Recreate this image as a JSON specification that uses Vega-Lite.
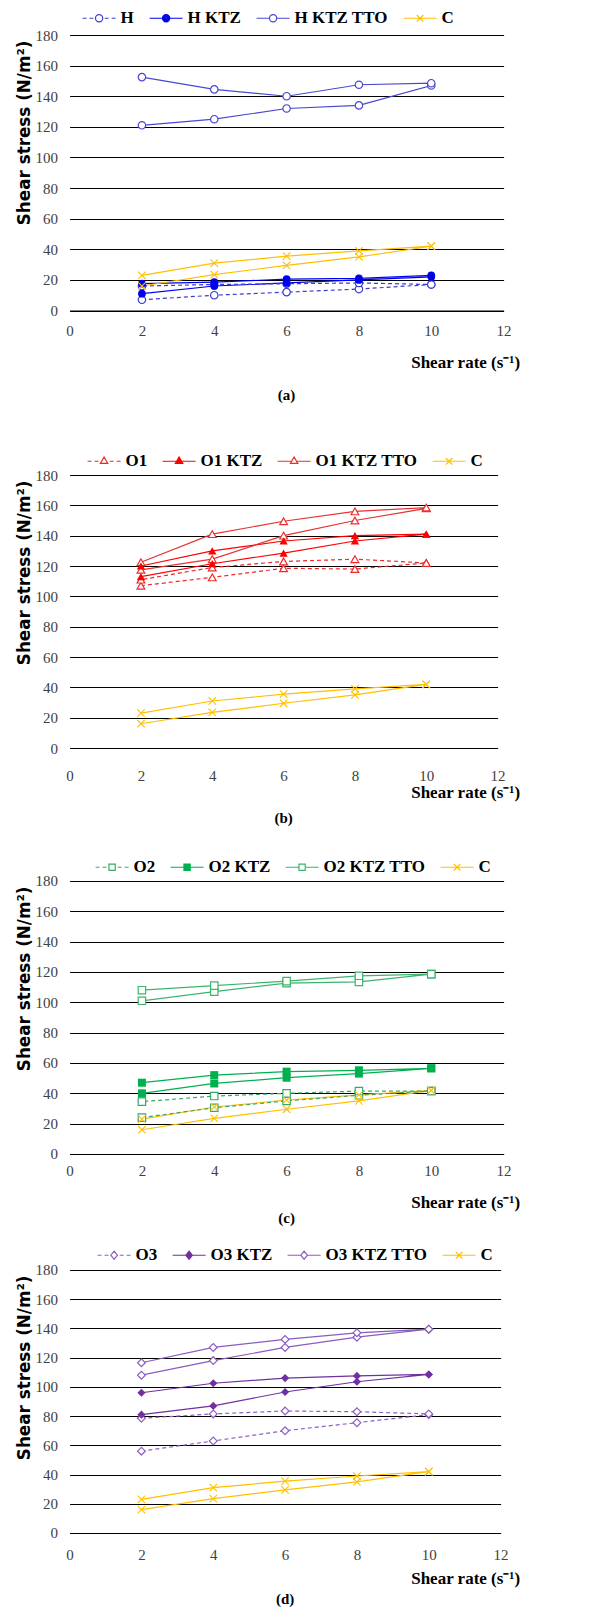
{
  "$schema": "https://vega.github.io/schema/vega-lite/v6.json",
  "background": "white",
  "padding": {"left": 16.6, "top": 0, "right": 0, "bottom": 0},
  "spacing": 0,
  "bounds": "flush",
  "resolve": {"scale": {"color": "independent", "shape": "independent"}, "legend": {"color": "independent", "shape": "independent"}},
  "datasets": {
    "a": [
      {"s": "H", "x": 2, "y": 7, "o": 1}, {"s": "H", "x": 4, "y": 10, "o": 2}, {"s": "H", "x": 6, "y": 12, "o": 3}, {"s": "H", "x": 8, "y": 14, "o": 4}, {"s": "H", "x": 10, "y": 17, "o": 5},
      {"s": "H", "x": 10, "y": 17, "o": 6}, {"s": "H", "x": 8, "y": 18, "o": 7}, {"s": "H", "x": 6, "y": 17.5, "o": 8}, {"s": "H", "x": 4, "y": 17, "o": 9}, {"s": "H", "x": 2, "y": 16, "o": 10},
      {"s": "H KTZ", "x": 2, "y": 11, "o": 1}, {"s": "H KTZ", "x": 4, "y": 16, "o": 2}, {"s": "H KTZ", "x": 6, "y": 18, "o": 3}, {"s": "H KTZ", "x": 8, "y": 20, "o": 4}, {"s": "H KTZ", "x": 10, "y": 22, "o": 5},
      {"s": "H KTZ", "x": 10, "y": 23, "o": 6}, {"s": "H KTZ", "x": 8, "y": 21, "o": 7}, {"s": "H KTZ", "x": 6, "y": 20.5, "o": 8}, {"s": "H KTZ", "x": 4, "y": 18.5, "o": 9}, {"s": "H KTZ", "x": 2, "y": 17.5, "o": 10},
      {"s": "H KTZ TTO", "x": 2, "y": 121, "o": 1}, {"s": "H KTZ TTO", "x": 4, "y": 125, "o": 2}, {"s": "H KTZ TTO", "x": 6, "y": 132, "o": 3}, {"s": "H KTZ TTO", "x": 8, "y": 134, "o": 4}, {"s": "H KTZ TTO", "x": 10, "y": 147, "o": 5},
      {"s": "H KTZ TTO", "x": 10, "y": 148.5, "o": 6}, {"s": "H KTZ TTO", "x": 8, "y": 147.5, "o": 7}, {"s": "H KTZ TTO", "x": 6, "y": 140, "o": 8}, {"s": "H KTZ TTO", "x": 4, "y": 144.5, "o": 9}, {"s": "H KTZ TTO", "x": 2, "y": 152.5, "o": 10},
      {"s": "C", "x": 2, "y": 16, "o": 1}, {"s": "C", "x": 4, "y": 23.5, "o": 2}, {"s": "C", "x": 6, "y": 29.5, "o": 3}, {"s": "C", "x": 8, "y": 35, "o": 4}, {"s": "C", "x": 10, "y": 42, "o": 5},
      {"s": "C", "x": 10, "y": 42, "o": 6}, {"s": "C", "x": 8, "y": 39, "o": 7}, {"s": "C", "x": 6, "y": 35.5, "o": 8}, {"s": "C", "x": 4, "y": 31, "o": 9}, {"s": "C", "x": 2, "y": 23, "o": 10}
    ],
    "b": [
      {"s": "O1", "x": 2, "y": 107, "o": 1}, {"s": "O1", "x": 4, "y": 112.5, "o": 2}, {"s": "O1", "x": 6, "y": 118.5, "o": 3}, {"s": "O1", "x": 8, "y": 118, "o": 4}, {"s": "O1", "x": 10, "y": 122, "o": 5},
      {"s": "O1", "x": 10, "y": 122, "o": 6}, {"s": "O1", "x": 8, "y": 124.5, "o": 7}, {"s": "O1", "x": 6, "y": 123, "o": 8}, {"s": "O1", "x": 4, "y": 119, "o": 9}, {"s": "O1", "x": 2, "y": 111, "o": 10},
      {"s": "O1 KTZ", "x": 2, "y": 113, "o": 1}, {"s": "O1 KTZ", "x": 4, "y": 121.5, "o": 2}, {"s": "O1 KTZ", "x": 6, "y": 128.5, "o": 3}, {"s": "O1 KTZ", "x": 8, "y": 136.5, "o": 4}, {"s": "O1 KTZ", "x": 10, "y": 141, "o": 5},
      {"s": "O1 KTZ", "x": 10, "y": 141, "o": 6}, {"s": "O1 KTZ", "x": 8, "y": 140, "o": 7}, {"s": "O1 KTZ", "x": 6, "y": 136.5, "o": 8}, {"s": "O1 KTZ", "x": 4, "y": 130, "o": 9}, {"s": "O1 KTZ", "x": 2, "y": 120, "o": 10},
      {"s": "O1 KTZ TTO", "x": 2, "y": 117.5, "o": 1}, {"s": "O1 KTZ TTO", "x": 4, "y": 124.5, "o": 2}, {"s": "O1 KTZ TTO", "x": 6, "y": 140, "o": 3}, {"s": "O1 KTZ TTO", "x": 8, "y": 150, "o": 4}, {"s": "O1 KTZ TTO", "x": 10, "y": 158, "o": 5},
      {"s": "O1 KTZ TTO", "x": 10, "y": 158.5, "o": 6}, {"s": "O1 KTZ TTO", "x": 8, "y": 156, "o": 7}, {"s": "O1 KTZ TTO", "x": 6, "y": 149.5, "o": 8}, {"s": "O1 KTZ TTO", "x": 4, "y": 141, "o": 9}, {"s": "O1 KTZ TTO", "x": 2, "y": 122.5, "o": 10},
      {"s": "C", "x": 2, "y": 16, "o": 1}, {"s": "C", "x": 4, "y": 23.5, "o": 2}, {"s": "C", "x": 6, "y": 29.5, "o": 3}, {"s": "C", "x": 8, "y": 35, "o": 4}, {"s": "C", "x": 10, "y": 42, "o": 5},
      {"s": "C", "x": 10, "y": 42, "o": 6}, {"s": "C", "x": 8, "y": 39, "o": 7}, {"s": "C", "x": 6, "y": 35.5, "o": 8}, {"s": "C", "x": 4, "y": 31, "o": 9}, {"s": "C", "x": 2, "y": 23, "o": 10}
    ],
    "c": [
      {"s": "O2", "x": 2, "y": 24, "o": 1}, {"s": "O2", "x": 4, "y": 30.5, "o": 2}, {"s": "O2", "x": 6, "y": 35, "o": 3}, {"s": "O2", "x": 8, "y": 38.7, "o": 4}, {"s": "O2", "x": 10, "y": 41.5, "o": 5},
      {"s": "O2", "x": 10, "y": 41.5, "o": 6}, {"s": "O2", "x": 8, "y": 41.5, "o": 7}, {"s": "O2", "x": 6, "y": 40, "o": 8}, {"s": "O2", "x": 4, "y": 38.2, "o": 9}, {"s": "O2", "x": 2, "y": 34.5, "o": 10},
      {"s": "O2 KTZ", "x": 2, "y": 40, "o": 1}, {"s": "O2 KTZ", "x": 4, "y": 46.5, "o": 2}, {"s": "O2 KTZ", "x": 6, "y": 50.3, "o": 3}, {"s": "O2 KTZ", "x": 8, "y": 53, "o": 4}, {"s": "O2 KTZ", "x": 10, "y": 56.5, "o": 5},
      {"s": "O2 KTZ", "x": 10, "y": 56.5, "o": 6}, {"s": "O2 KTZ", "x": 8, "y": 55.2, "o": 7}, {"s": "O2 KTZ", "x": 6, "y": 54.3, "o": 8}, {"s": "O2 KTZ", "x": 4, "y": 52, "o": 9}, {"s": "O2 KTZ", "x": 2, "y": 47, "o": 10},
      {"s": "O2 KTZ TTO", "x": 2, "y": 101, "o": 1}, {"s": "O2 KTZ TTO", "x": 4, "y": 107, "o": 2}, {"s": "O2 KTZ TTO", "x": 6, "y": 112.7, "o": 3}, {"s": "O2 KTZ TTO", "x": 8, "y": 113.5, "o": 4}, {"s": "O2 KTZ TTO", "x": 10, "y": 118.6, "o": 5},
      {"s": "O2 KTZ TTO", "x": 10, "y": 118.6, "o": 6}, {"s": "O2 KTZ TTO", "x": 8, "y": 117.5, "o": 7}, {"s": "O2 KTZ TTO", "x": 6, "y": 114, "o": 8}, {"s": "O2 KTZ TTO", "x": 4, "y": 111, "o": 9}, {"s": "O2 KTZ TTO", "x": 2, "y": 108, "o": 10},
      {"s": "C", "x": 2, "y": 16, "o": 1}, {"s": "C", "x": 4, "y": 23.5, "o": 2}, {"s": "C", "x": 6, "y": 29.5, "o": 3}, {"s": "C", "x": 8, "y": 35, "o": 4}, {"s": "C", "x": 10, "y": 42, "o": 5},
      {"s": "C", "x": 10, "y": 42, "o": 6}, {"s": "C", "x": 8, "y": 39, "o": 7}, {"s": "C", "x": 6, "y": 35.5, "o": 8}, {"s": "C", "x": 4, "y": 31, "o": 9}, {"s": "C", "x": 2, "y": 23, "o": 10}
    ],
    "d": [
      {"s": "O3", "x": 2, "y": 56, "o": 1}, {"s": "O3", "x": 4, "y": 63, "o": 2}, {"s": "O3", "x": 6, "y": 70, "o": 3}, {"s": "O3", "x": 8, "y": 75.5, "o": 4}, {"s": "O3", "x": 10, "y": 81, "o": 5},
      {"s": "O3", "x": 10, "y": 81.5, "o": 6}, {"s": "O3", "x": 8, "y": 83, "o": 7}, {"s": "O3", "x": 6, "y": 83.5, "o": 8}, {"s": "O3", "x": 4, "y": 81.5, "o": 9}, {"s": "O3", "x": 2, "y": 78.5, "o": 10},
      {"s": "O3 KTZ", "x": 2, "y": 81, "o": 1}, {"s": "O3 KTZ", "x": 4, "y": 87, "o": 2}, {"s": "O3 KTZ", "x": 6, "y": 96.5, "o": 3}, {"s": "O3 KTZ", "x": 8, "y": 103.5, "o": 4}, {"s": "O3 KTZ", "x": 10, "y": 108.5, "o": 5},
      {"s": "O3 KTZ", "x": 10, "y": 108.5, "o": 6}, {"s": "O3 KTZ", "x": 8, "y": 107.5, "o": 7}, {"s": "O3 KTZ", "x": 6, "y": 106, "o": 8}, {"s": "O3 KTZ", "x": 4, "y": 102.5, "o": 9}, {"s": "O3 KTZ", "x": 2, "y": 96, "o": 10},
      {"s": "O3 KTZ TTO", "x": 2, "y": 108, "o": 1}, {"s": "O3 KTZ TTO", "x": 4, "y": 118, "o": 2}, {"s": "O3 KTZ TTO", "x": 6, "y": 127, "o": 3}, {"s": "O3 KTZ TTO", "x": 8, "y": 134, "o": 4}, {"s": "O3 KTZ TTO", "x": 10, "y": 139.5, "o": 5},
      {"s": "O3 KTZ TTO", "x": 10, "y": 139.5, "o": 6}, {"s": "O3 KTZ TTO", "x": 8, "y": 137, "o": 7}, {"s": "O3 KTZ TTO", "x": 6, "y": 132.5, "o": 8}, {"s": "O3 KTZ TTO", "x": 4, "y": 127, "o": 9}, {"s": "O3 KTZ TTO", "x": 2, "y": 116.5, "o": 10},
      {"s": "C", "x": 2, "y": 16, "o": 1}, {"s": "C", "x": 4, "y": 23.5, "o": 2}, {"s": "C", "x": 6, "y": 29.5, "o": 3}, {"s": "C", "x": 8, "y": 35, "o": 4}, {"s": "C", "x": 10, "y": 42, "o": 5},
      {"s": "C", "x": 10, "y": 42, "o": 6}, {"s": "C", "x": 8, "y": 39, "o": 7}, {"s": "C", "x": 6, "y": 35.5, "o": 8}, {"s": "C", "x": 4, "y": 31, "o": 9}, {"s": "C", "x": 2, "y": 23, "o": 10}
    ]
  },
  "vconcat": [
    {
      "width": 434, "height": 275.5,
      "data": {"name": "a"},
      "title": {"text": "(a)", "orient": "bottom", "anchor": "middle", "frame": "group", "offset": 17},
      "encoding": {
        "x": {"field": "x", "type": "quantitative", "scale": {"domain": [0, 12], "nice": false, "zero": false},
          "axis": {"values": [0, 2, 4, 6, 8, 10, 12], "grid": false, "domain": true, "domainColor": "black", "domainWidth": 1.2, "ticks": false, "labelPadding": 13, "labelFlush": false, "labelOverlap": false, "title": "Shear rate (s⁻¹)", "titleX": 450, "titleY": 52, "titleAlign": "right", "titleBaseline": "middle"}},
        "y": {"field": "y", "type": "quantitative", "scale": {"domain": [0, 180], "nice": false, "zero": false},
          "axis": {"values": [0, 20, 40, 60, 80, 100, 120, 140, 160, 180], "grid": true, "gridColor": "black", "gridWidth": 1.2, "domain": false, "ticks": false, "labelPadding": 12, "labelFlush": false, "labelOverlap": false, "title": "Shear stress (N/m²)", "titleX": -45, "titleY": 5, "titleAngle": 270, "titleAlign": "right", "titleBaseline": "middle", "titleFont": "DejaVu Sans", "titleFontSize": 16.8}}
      },
      "layer": [
        {"transform": [{"filter": {"field": "s", "oneOf": ["H KTZ", "H KTZ TTO", "C"]}}],
          "mark": {"type": "line", "strokeWidth": 1.2},
          "encoding": {
            "color": {"field": "s", "type": "nominal", "scale": {"domain": ["H", "H KTZ", "H KTZ TTO", "C"], "range": ["#3c3cd0", "#0000f0", "#4848d0", "#ffc000"]}, "legend": {"orient": "none", "legendX": 12, "legendY": -34.5, "direction": "horizontal", "title": null}},
            "order": {"field": "o", "type": "quantitative"}
          }},
        {"transform": [{"filter": {"field": "s", "equal": "H"}}],
          "mark": {"type": "line", "strokeWidth": 1.2, "strokeDash": [4, 3]},
          "encoding": {
            "color": {"field": "s", "type": "nominal", "scale": {"domain": ["H", "H KTZ", "H KTZ TTO", "C"], "range": ["#3c3cd0", "#0000f0", "#4848d0", "#ffc000"]}, "legend": null},
            "order": {"field": "o", "type": "quantitative"}
          }},
        {"data": {"values": [{}]}, "mark": {"type": "rule", "color": "black", "strokeWidth": 1.2},
          "encoding": {"x": {"datum": 0, "type": "quantitative"}, "y": {"datum": 0, "type": "quantitative"}, "y2": {"datum": 180}}},
        {"mark": {"type": "point", "size": 0, "opacity": 1, "filled": false},
          "encoding": {
            "color": {"field": "s", "type": "nominal", "scale": {"domain": ["H", "H KTZ", "H KTZ TTO", "C"], "range": ["#3c3cd0", "#0000f0", "#4848d0", "#ffc000"]}, "legend": {"orient": "none", "legendX": 12, "legendY": -34.5, "direction": "horizontal", "title": null}},
            "shape": {"field": "s", "type": "nominal", "scale": {"domain": ["H", "H KTZ", "H KTZ TTO", "C"], "range": [
              "M-1,0L-0.76,0M-0.58,0L-0.34,0M0.34,0L0.58,0M0.76,0L1,0M0.22,0A0.22,0.22,0,1,1,-0.22,0A0.22,0.22,0,1,1,0.22,0Z",
              "M-1,0L1,0M0.22,0A0.22,0.22,0,1,1,-0.22,0A0.22,0.22,0,1,1,0.22,0ZM0.15,0A0.15,0.15,0,1,1,-0.15,0A0.15,0.15,0,1,1,0.15,0ZM0.08,0A0.08,0.08,0,1,1,-0.08,0A0.08,0.08,0,1,1,0.08,0Z",
              "M-1,0L-0.22,0M0.22,0L1,0M0.22,0A0.22,0.22,0,1,1,-0.22,0A0.22,0.22,0,1,1,0.22,0Z",
              "M-1,0L1,0M-0.2,-0.2L0.2,0.2M-0.2,0.2L0.2,-0.2"]}, "legend": {"orient": "none", "legendX": 12, "legendY": -34.5, "direction": "horizontal", "title": null}}
          }},
        {"transform": [{"filter": {"field": "s", "oneOf": ["H", "H KTZ TTO"]}}],
          "mark": {"type": "point", "shape": "circle", "size": 55, "filled": false, "fill": "white", "strokeWidth": 1.2, "opacity": 1},
          "encoding": {"color": {"field": "s", "type": "nominal", "scale": {"domain": ["H", "H KTZ", "H KTZ TTO", "C"], "range": ["#3c3cd0", "#0000f0", "#4848d0", "#ffc000"]}, "legend": null}}},
        {"transform": [{"filter": {"field": "s", "equal": "H KTZ"}}],
          "mark": {"type": "point", "shape": "circle", "size": 60, "filled": true, "color": "#0000f0", "opacity": 1}},
        {"transform": [{"filter": {"field": "s", "equal": "C"}}],
          "mark": {"type": "point", "shape": "M-1,-1L1,1M-1,1L1,-1", "size": 56, "filled": false, "strokeWidth": 1.1, "opacity": 1},
          "encoding": {"color": {"field": "s", "type": "nominal", "scale": {"domain": ["H", "H KTZ", "H KTZ TTO", "C"], "range": ["#3c3cd0", "#0000f0", "#4848d0", "#ffc000"]}, "legend": null}}}
      ]
    },
    {
      "width": 428, "height": 437,
      "data": {"name": "b"},
      "title": {"text": "(b)", "orient": "bottom", "anchor": "middle", "frame": "group", "offset": 11},
      "encoding": {
        "x": {"field": "x", "type": "quantitative", "scale": {"domain": [0, 12], "nice": false, "zero": false},
          "axis": {"values": [0, 2, 4, 6, 8, 10, 12], "grid": false, "domain": true, "domainColor": "black", "domainWidth": 1.2, "ticks": false, "labelPadding": 20, "labelFlush": false, "labelOverlap": false, "title": "Shear rate (s⁻¹)", "titleX": 450, "titleY": 44.5, "titleAlign": "right", "titleBaseline": "middle"}},
        "y": {"field": "y", "type": "quantitative", "scale": {"domain": [0, 288.13], "nice": false, "zero": false},
          "axis": {"values": [0, 20, 40, 60, 80, 100, 120, 140, 160, 180], "grid": true, "gridColor": "black", "gridWidth": 1.2, "domain": false, "ticks": false, "labelPadding": 12, "labelFlush": false, "labelOverlap": false, "title": "Shear stress (N/m²)", "titleX": -45, "titleY": 169, "titleAngle": 270, "titleAlign": "right", "titleBaseline": "middle", "titleFont": "DejaVu Sans", "titleFontSize": 16.8}}
      },
      "layer": [
        {"transform": [{"filter": {"field": "s", "oneOf": ["O1 KTZ", "O1 KTZ TTO", "C"]}}],
          "mark": {"type": "line", "strokeWidth": 1.2},
          "encoding": {
            "color": {"field": "s", "type": "nominal", "scale": {"domain": ["O1", "O1 KTZ", "O1 KTZ TTO", "C"], "range": ["#f02828", "#ff0000", "#e83030", "#ffc000"]}, "legend": {"orient": "none", "legendX": 17, "legendY": 132.5, "direction": "horizontal", "title": null}},
            "order": {"field": "o", "type": "quantitative"}
          }},
        {"transform": [{"filter": {"field": "s", "equal": "O1"}}],
          "mark": {"type": "line", "strokeWidth": 1.2, "strokeDash": [4, 3]},
          "encoding": {
            "color": {"field": "s", "type": "nominal", "scale": {"domain": ["O1", "O1 KTZ", "O1 KTZ TTO", "C"], "range": ["#f02828", "#ff0000", "#e83030", "#ffc000"]}, "legend": null},
            "order": {"field": "o", "type": "quantitative"}
          }},
        {"data": {"values": [{}]}, "mark": {"type": "rule", "color": "black", "strokeWidth": 1.2},
          "encoding": {"x": {"datum": 0, "type": "quantitative"}, "y": {"datum": 0, "type": "quantitative"}, "y2": {"datum": 180}}},
        {"mark": {"type": "point", "size": 0, "opacity": 1, "filled": false},
          "encoding": {
            "color": {"field": "s", "type": "nominal", "scale": {"domain": ["O1", "O1 KTZ", "O1 KTZ TTO", "C"], "range": ["#f02828", "#ff0000", "#e83030", "#ffc000"]}, "legend": {"orient": "none", "legendX": 17, "legendY": 132.5, "direction": "horizontal", "title": null}},
            "shape": {"field": "s", "type": "nominal", "scale": {"domain": ["O1", "O1 KTZ", "O1 KTZ TTO", "C"], "range": [
              "M-1,0L-0.76,0M-0.58,0L-0.34,0M0.34,0L0.58,0M0.76,0L1,0M0,-0.26L0.225,0.13L-0.225,0.13Z",
              "M-1,0L1,0M0,-0.26L0.225,0.13L-0.225,0.13ZM0,-0.17L0.147,0.085L-0.147,0.085ZM0,-0.09L0.078,0.045L-0.078,0.045Z",
              "M-1,0L-0.15,0M0.15,0L1,0M0,-0.26L0.225,0.13L-0.225,0.13Z",
              "M-1,0L1,0M-0.2,-0.2L0.2,0.2M-0.2,0.2L0.2,-0.2"]}, "legend": {"orient": "none", "legendX": 17, "legendY": 132.5, "direction": "horizontal", "title": null}}
          }},
        {"transform": [{"filter": {"field": "s", "oneOf": ["O1", "O1 KTZ TTO"]}}],
          "mark": {"type": "point", "shape": "triangle-up", "size": 60, "filled": false, "fill": "white", "strokeWidth": 1.2, "opacity": 1},
          "encoding": {"color": {"field": "s", "type": "nominal", "scale": {"domain": ["O1", "O1 KTZ", "O1 KTZ TTO", "C"], "range": ["#f02828", "#ff0000", "#e83030", "#ffc000"]}, "legend": null}}},
        {"transform": [{"filter": {"field": "s", "equal": "O1 KTZ"}}],
          "mark": {"type": "point", "shape": "triangle-up", "size": 70, "filled": true, "color": "#ff0000", "opacity": 1}},
        {"transform": [{"filter": {"field": "s", "equal": "C"}}],
          "mark": {"type": "point", "shape": "M-1,-1L1,1M-1,1L1,-1", "size": 56, "filled": false, "strokeWidth": 1.1, "opacity": 1},
          "encoding": {"color": {"field": "s", "type": "nominal", "scale": {"domain": ["O1", "O1 KTZ", "O1 KTZ TTO", "C"], "range": ["#f02828", "#ff0000", "#e83030", "#ffc000"]}, "legend": null}}}
      ]
    },
    {
      "width": 434, "height": 406,
      "data": {"name": "c"},
      "title": {"text": "(c)", "orient": "bottom", "anchor": "middle", "frame": "group", "offset": 0},
      "encoding": {
        "x": {"field": "x", "type": "quantitative", "scale": {"domain": [0, 12], "nice": false, "zero": false},
          "axis": {"values": [0, 2, 4, 6, 8, 10, 12], "grid": false, "domain": true, "domainColor": "black", "domainWidth": 1.2, "ticks": false, "labelPadding": 10, "labelFlush": false, "labelOverlap": false, "title": "Shear rate (s⁻¹)", "titleX": 450, "titleY": 49, "titleAlign": "right", "titleBaseline": "middle"}},
        "y": {"field": "y", "type": "quantitative", "scale": {"domain": [0, 267.69], "nice": false, "zero": false},
          "axis": {"values": [0, 20, 40, 60, 80, 100, 120, 140, 160, 180], "grid": true, "gridColor": "black", "gridWidth": 1.2, "domain": false, "ticks": false, "labelPadding": 12, "labelFlush": false, "labelOverlap": false, "title": "Shear stress (N/m²)", "titleX": -45, "titleY": 138, "titleAngle": 270, "titleAlign": "right", "titleBaseline": "middle", "titleFont": "DejaVu Sans", "titleFontSize": 16.8}}
      },
      "layer": [
        {"transform": [{"filter": {"field": "s", "oneOf": ["O2 KTZ", "O2 KTZ TTO", "C"]}}],
          "mark": {"type": "line", "strokeWidth": 1.2},
          "encoding": {
            "color": {"field": "s", "type": "nominal", "scale": {"domain": ["O2", "O2 KTZ", "O2 KTZ TTO", "C"], "range": ["#3aa868", "#00b050", "#3cb46e", "#ffc000"]}, "legend": {"orient": "none", "legendX": 25, "legendY": 101.5, "direction": "horizontal", "title": null}},
            "order": {"field": "o", "type": "quantitative"}
          }},
        {"transform": [{"filter": {"field": "s", "equal": "O2"}}],
          "mark": {"type": "line", "strokeWidth": 1.2, "strokeDash": [4, 3]},
          "encoding": {
            "color": {"field": "s", "type": "nominal", "scale": {"domain": ["O2", "O2 KTZ", "O2 KTZ TTO", "C"], "range": ["#3aa868", "#00b050", "#3cb46e", "#ffc000"]}, "legend": null},
            "order": {"field": "o", "type": "quantitative"}
          }},
        {"data": {"values": [{}]}, "mark": {"type": "rule", "color": "black", "strokeWidth": 1.2},
          "encoding": {"x": {"datum": 0, "type": "quantitative"}, "y": {"datum": 0, "type": "quantitative"}, "y2": {"datum": 180}}},
        {"mark": {"type": "point", "size": 0, "opacity": 1, "filled": false},
          "encoding": {
            "color": {"field": "s", "type": "nominal", "scale": {"domain": ["O2", "O2 KTZ", "O2 KTZ TTO", "C"], "range": ["#3aa868", "#00b050", "#3cb46e", "#ffc000"]}, "legend": {"orient": "none", "legendX": 25, "legendY": 101.5, "direction": "horizontal", "title": null}},
            "shape": {"field": "s", "type": "nominal", "scale": {"domain": ["O2", "O2 KTZ", "O2 KTZ TTO", "C"], "range": [
              "M-1,0L-0.76,0M-0.58,0L-0.34,0M0.34,0L0.58,0M0.76,0L1,0M-0.19,-0.19L0.19,-0.19L0.19,0.19L-0.19,0.19Z",
              "M-1,0L1,0M-0.19,-0.19L0.19,-0.19L0.19,0.19L-0.19,0.19ZM-0.12,-0.12L0.12,-0.12L0.12,0.12L-0.12,0.12ZM-0.05,-0.05L0.05,-0.05L0.05,0.05L-0.05,0.05Z",
              "M-1,0L-0.19,0M0.19,0L1,0M-0.19,-0.19L0.19,-0.19L0.19,0.19L-0.19,0.19Z",
              "M-1,0L1,0M-0.2,-0.2L0.2,0.2M-0.2,0.2L0.2,-0.2"]}, "legend": {"orient": "none", "legendX": 25, "legendY": 101.5, "direction": "horizontal", "title": null}}
          }},
        {"transform": [{"filter": {"field": "s", "oneOf": ["O2", "O2 KTZ TTO"]}}],
          "mark": {"type": "point", "shape": "square", "size": 55, "filled": false, "fill": "white", "strokeWidth": 1.2, "opacity": 1},
          "encoding": {"color": {"field": "s", "type": "nominal", "scale": {"domain": ["O2", "O2 KTZ", "O2 KTZ TTO", "C"], "range": ["#3aa868", "#00b050", "#3cb46e", "#ffc000"]}, "legend": null}}},
        {"transform": [{"filter": {"field": "s", "equal": "O2 KTZ"}}],
          "mark": {"type": "point", "shape": "square", "size": 64, "filled": true, "color": "#00b050", "opacity": 1}},
        {"transform": [{"filter": {"field": "s", "equal": "C"}}],
          "mark": {"type": "point", "shape": "M-1,-1L1,1M-1,1L1,-1", "size": 56, "filled": false, "strokeWidth": 1.1, "opacity": 1},
          "encoding": {"color": {"field": "s", "type": "nominal", "scale": {"domain": ["O2", "O2 KTZ", "O2 KTZ TTO", "C"], "range": ["#3aa868", "#00b050", "#3cb46e", "#ffc000"]}, "legend": null}}}
      ]
    },
    {
      "width": 431, "height": 379,
      "data": {"name": "d"},
      "title": {"text": "(d)", "orient": "bottom", "anchor": "middle", "frame": "group", "offset": 5},
      "encoding": {
        "x": {"field": "x", "type": "quantitative", "scale": {"domain": [0, 12], "nice": false, "zero": false},
          "axis": {"values": [0, 2, 4, 6, 8, 10, 12], "grid": false, "domain": true, "domainColor": "black", "domainWidth": 1.2, "ticks": false, "labelPadding": 15, "labelFlush": false, "labelOverlap": false, "title": "Shear rate (s⁻¹)", "titleX": 450, "titleY": 46, "titleAlign": "right", "titleBaseline": "middle"}},
        "y": {"field": "y", "type": "quantitative", "scale": {"domain": [0, 259.39], "nice": false, "zero": false},
          "axis": {"values": [0, 20, 40, 60, 80, 100, 120, 140, 160, 180], "grid": true, "gridColor": "black", "gridWidth": 1.2, "domain": false, "ticks": false, "labelPadding": 12, "labelFlush": false, "labelOverlap": false, "title": "Shear stress (N/m²)", "titleX": -45, "titleY": 121, "titleAngle": 270, "titleAlign": "right", "titleBaseline": "middle", "titleFont": "DejaVu Sans", "titleFontSize": 16.8}}
      },
      "layer": [
        {"transform": [{"filter": {"field": "s", "oneOf": ["O3 KTZ", "O3 KTZ TTO", "C"]}}],
          "mark": {"type": "line", "strokeWidth": 1.2},
          "encoding": {
            "color": {"field": "s", "type": "nominal", "scale": {"domain": ["O3", "O3 KTZ", "O3 KTZ TTO", "C"], "range": ["#8e60c0", "#7030a0", "#8a5cc0", "#ffc000"]}, "legend": {"orient": "none", "legendX": 27, "legendY": 83.5, "direction": "horizontal", "title": null}},
            "order": {"field": "o", "type": "quantitative"}
          }},
        {"transform": [{"filter": {"field": "s", "equal": "O3"}}],
          "mark": {"type": "line", "strokeWidth": 1.2, "strokeDash": [4, 3]},
          "encoding": {
            "color": {"field": "s", "type": "nominal", "scale": {"domain": ["O3", "O3 KTZ", "O3 KTZ TTO", "C"], "range": ["#8e60c0", "#7030a0", "#8a5cc0", "#ffc000"]}, "legend": null},
            "order": {"field": "o", "type": "quantitative"}
          }},
        {"data": {"values": [{}]}, "mark": {"type": "rule", "color": "black", "strokeWidth": 1.2},
          "encoding": {"x": {"datum": 0, "type": "quantitative"}, "y": {"datum": 0, "type": "quantitative"}, "y2": {"datum": 180}}},
        {"mark": {"type": "point", "size": 0, "opacity": 1, "filled": false},
          "encoding": {
            "color": {"field": "s", "type": "nominal", "scale": {"domain": ["O3", "O3 KTZ", "O3 KTZ TTO", "C"], "range": ["#8e60c0", "#7030a0", "#8a5cc0", "#ffc000"]}, "legend": {"orient": "none", "legendX": 27, "legendY": 83.5, "direction": "horizontal", "title": null}},
            "shape": {"field": "s", "type": "nominal", "scale": {"domain": ["O3", "O3 KTZ", "O3 KTZ TTO", "C"], "range": [
              "M-1,0L-0.76,0M-0.58,0L-0.34,0M0.34,0L0.58,0M0.76,0L1,0M0,-0.25L0.2,0L0,0.25L-0.2,0Z",
              "M-1,0L1,0M0,-0.25L0.2,0L0,0.25L-0.2,0ZM0,-0.165L0.13,0L0,0.165L-0.13,0ZM0,-0.08L0.06,0L0,0.08L-0.06,0Z",
              "M-1,0L-0.2,0M0.2,0L1,0M0,-0.25L0.2,0L0,0.25L-0.2,0Z",
              "M-1,0L1,0M-0.2,-0.2L0.2,0.2M-0.2,0.2L0.2,-0.2"]}, "legend": {"orient": "none", "legendX": 27, "legendY": 83.5, "direction": "horizontal", "title": null}}
          }},
        {"transform": [{"filter": {"field": "s", "oneOf": ["O3", "O3 KTZ TTO"]}}],
          "mark": {"type": "point", "shape": "diamond", "size": 60, "filled": false, "fill": "white", "strokeWidth": 1.2, "opacity": 1},
          "encoding": {"color": {"field": "s", "type": "nominal", "scale": {"domain": ["O3", "O3 KTZ", "O3 KTZ TTO", "C"], "range": ["#8e60c0", "#7030a0", "#8a5cc0", "#ffc000"]}, "legend": null}}},
        {"transform": [{"filter": {"field": "s", "equal": "O3 KTZ"}}],
          "mark": {"type": "point", "shape": "diamond", "size": 66, "filled": true, "color": "#7030a0", "opacity": 1}},
        {"transform": [{"filter": {"field": "s", "equal": "C"}}],
          "mark": {"type": "point", "shape": "M-1,-1L1,1M-1,1L1,-1", "size": 56, "filled": false, "strokeWidth": 1.1, "opacity": 1},
          "encoding": {"color": {"field": "s", "type": "nominal", "scale": {"domain": ["O3", "O3 KTZ", "O3 KTZ TTO", "C"], "range": ["#8e60c0", "#7030a0", "#8a5cc0", "#ffc000"]}, "legend": null}}}
      ]
    }
  ],
  "config": {
    "view": {"stroke": null},
    "axis": {"labelFont": "Liberation Serif", "labelFontSize": 15, "labelColor": "#404040", "titleFont": "Liberation Serif", "titleFontSize": 17, "titleFontWeight": "bold", "titleColor": "black"},
    "legend": {"symbolSize": 1089, "symbolStrokeWidth": 1.2, "symbolOpacity": 1, "symbolFillColor": "transparent", "labelFont": "Liberation Serif", "labelFontSize": 17, "labelFontWeight": "bold", "labelColor": "black", "labelOffset": 4, "columnPadding": 12, "padding": 0, "rowPadding": 0},
    "title": {"font": "Liberation Serif", "fontSize": 15, "fontWeight": "bold", "color": "black"}
  }
}
